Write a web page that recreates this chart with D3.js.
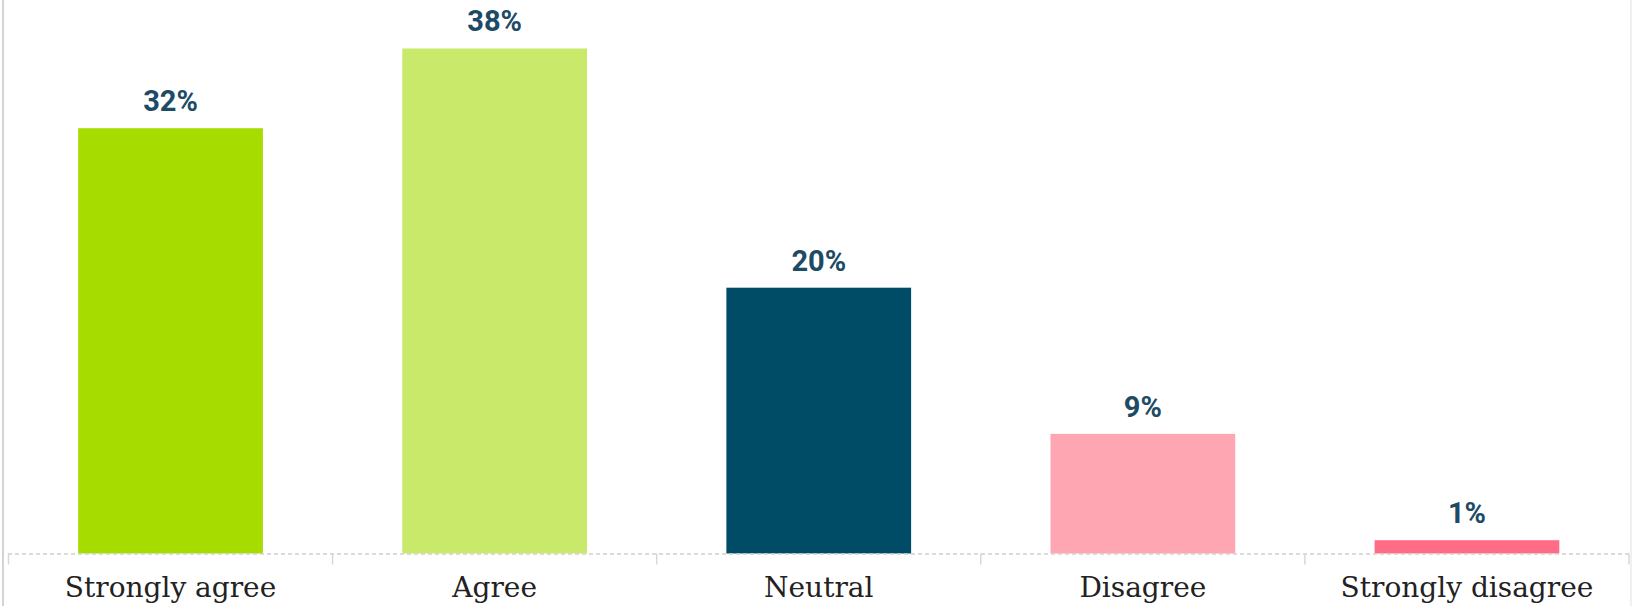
<!DOCTYPE html>
<html>
<head>
<meta charset="utf-8">
<script src="https://cdn.jsdelivr.net/npm/d3@7"></script>
<style>
  html, body { margin: 0; padding: 0; background: #fff; }
  svg { display: block; }
</style>
</head>
<body>
<svg id="svg"></svg>
<script>
const categories = ["Strongly agree", "Agree", "Neutral", "Disagree", "Strongly disagree"];
const values = [32, 38, 20, 9, 1];
const colors = ["#a6dc00", "#c8e96a", "#004b66", "#ffa6b3", "#ff6c86"];

const width = 1636, height = 606;
const baseline = 553.5;

const svg = d3.select("#svg")
    .attr("width", width)
    .attr("height", height);

// frame edges
svg.append("line")
    .attr("x1", 3).attr("x2", 3).attr("y1", 0).attr("y2", height)
    .attr("stroke", "#d4d4d4").attr("stroke-width", 2);
svg.append("line")
    .attr("x1", 1631).attr("x2", 1631).attr("y1", 0).attr("y2", height)
    .attr("stroke", "#f0f0f0").attr("stroke-width", 2);

const x = d3.scaleBand()
    .domain(categories)
    .range([8.5, 1629])
    .paddingInner(0.43)
    .paddingOuter(0.215);

const y = d3.scaleLinear()
    .domain([0, 40])
    .range([baseline, baseline - 40 * 13.29]);

svg.selectAll("rect.bar")
    .data(values)
    .enter().append("rect")
    .attr("class", "bar")
    .attr("x", (d, i) => x(categories[i]))
    .attr("width", x.bandwidth())
    .attr("y", d => y(d))
    .attr("height", d => y(0) - y(d))
    .attr("fill", (d, i) => colors[i]);

// dashed baseline with ticks at band boundaries
svg.append("line")
    .attr("x1", 8).attr("x2", 1629)
    .attr("y1", baseline + 0.5).attr("y2", baseline + 0.5)
    .attr("stroke", "#cfcfcf")
    .attr("stroke-width", 1.5)
    .attr("stroke-dasharray", "4,3");

const bounds = d3.range(categories.length + 1).map(i => 8.5 + i * x.step());
svg.selectAll("line.tick")
    .data(bounds)
    .enter().append("line")
    .attr("class", "tick")
    .attr("x1", d => d).attr("x2", d => d)
    .attr("y1", baseline).attr("y2", baseline + 11)
    .attr("stroke", "#d8d8d8")
    .attr("stroke-width", 1.5);

// value labels
svg.selectAll("text.val")
    .data(values)
    .enter().append("text")
    .attr("class", "val")
    .attr("x", (d, i) => x(categories[i]) + x.bandwidth() / 2)
    .attr("y", d => y(d) - 17)
    .attr("text-anchor", "middle")
    .attr("font-family", "Roboto, 'Noto Sans', sans-serif")
    .attr("font-weight", "bold")
    .attr("font-size", 29)
    .attr("fill", "#1d4a64")
    .text(d => d + "%");

// category labels
svg.selectAll("text.cat")
    .data(categories)
    .enter().append("text")
    .attr("class", "cat")
    .attr("x", d => x(d) + x.bandwidth() / 2)
    .attr("y", 597)
    .attr("text-anchor", "middle")
    .attr("font-family", "'DejaVu Serif', serif")
    .attr("font-size", 28)
    .attr("fill", "#222")
    .text(d => d);
</script>
</body>
</html>
